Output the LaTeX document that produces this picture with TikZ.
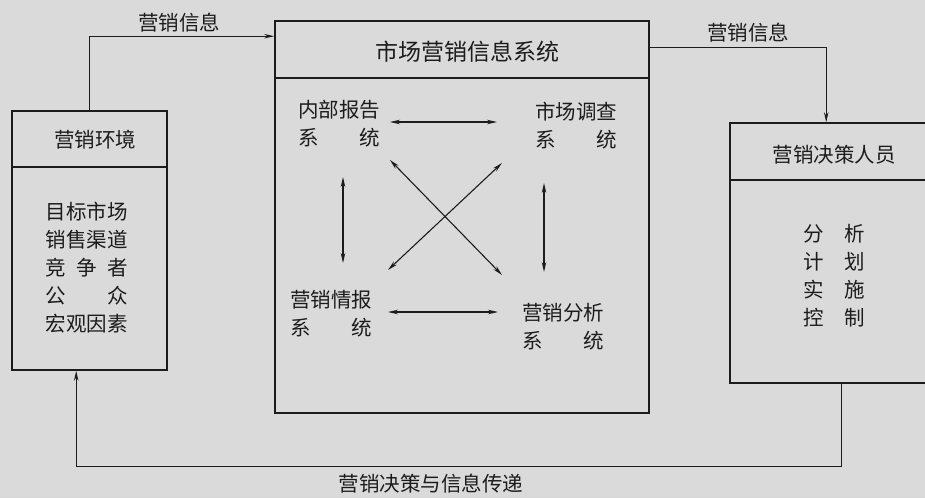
\documentclass[tikz,border=0pt]{standalone}
\usepackage{fontspec}
\setmainfont{Noto Sans CJK SC}
\usetikzlibrary{arrows.meta,calc}
\definecolor{paper}{RGB}{218,218,218}
\definecolor{ink}{RGB}{28,28,28}
\newcommand{\twoch}[3]{\makebox[#1]{#2\hfill#3}}
\newcommand{\threech}[4]{\makebox[#1]{#2\hfill#3\hfill#4}}
\begin{document}
\begin{tikzpicture}[x=1pt,y=-1pt,
  txt/.style={font=\fontsize{20.5}{28}\selectfont, inner sep=0pt, text=ink},
  ttl/.style={font=\fontsize{23}{28}\selectfont, inner sep=0pt, text=ink},
  box/.style={draw=ink, line width=1.6pt, inner sep=0pt},
  divline/.style={draw=ink, line width=1.6pt},
  arr/.style={draw=ink, line width=1.1pt, -{Stealth[length=10pt,width=4.5pt]}},
  darr/.style={draw=ink, line width=1.1pt, {Stealth[length=10pt,width=4.5pt]}-{Stealth[length=10pt,width=4.5pt]}},
]
\fill[paper] (0,0) rectangle (925,498);
\useasboundingbox (0,0) rectangle (925,498);
\clip (0,0) rectangle (925,498);

% boxes
\node[box, minimum width=155pt, minimum height=259pt] (env) at (89.5,240.5) {};
\node[box, minimum width=374pt, minimum height=392pt] (mis) at (462,217) {};
\node[box, minimum width=210pt, minimum height=260pt] (dm) at (835,253) {};

\draw[divline] (env.west |- 0,167) -- (env.east |- 0,167);
\draw[divline] (mis.west |- 0,78) -- (mis.east |- 0,78);
\draw[divline] (dm.west |- 0,180) -- (dm.east |- 0,180);

% titles
\node[txt] (envt) at (95,140) {营销环境};
\node[ttl] (mist) at (467,52) {市场营销信息系统};
\node[txt] (dmt) at (834,155) {营销决策人员};

% body texts
\node[txt, align=left] (envb) at (86.5,268) {目标市场\\销售渠道\\\threech{4em}{竞}{争}{者}\\\twoch{4em}{公}{众}\\宏观因素};
\node[txt, align=left] (dmb) at (834,276) {\twoch{3em}{分}{析}\\\twoch{3em}{计}{划}\\\twoch{3em}{实}{施}\\\twoch{3em}{控}{制}};

% subsystems
\node[txt, align=left] (irs) at (339,124) {内部报告\\\twoch{4em}{系}{统}};
\node[txt, align=left] (mr) at (576,126) {市场调查\\\twoch{4em}{系}{统}};
\node[txt, align=left] (mi) at (331,313.5) {营销情报\\\twoch{4em}{系}{统}};
\node[txt, align=left] (ma) at (563,326.5) {营销分析\\\twoch{4em}{系}{统}};

% inner arrows
\draw[darr] ($(irs)+(51,-2)$) -- ($(mr)+(-79,-4)$);
\draw[darr] ($(mi)+(57,-1.5)$) -- ($(ma)+(-65,-14.5)$);
\draw[darr] ($(irs)+(4,53)$) -- ($(mi)+(12,-50.5)$);
\draw[darr] ($(mr)+(-32,57)$) -- ($(ma)+(-19,-54.5)$);
\draw[darr] ($(irs)+(51,36)$) -- ($(ma)+(-61,-51.5)$);
\draw[darr] ($(mr)+(-74,37)$) -- ($(mi)+(57,-43.5)$);

% outer connectors
\draw[arr] (env.north) |- ($(mis.north west)+(0,16)$);
\draw[arr] ($(mis.north east)+(0,27)$) -| ($(dm.north west)+(97,0)$);
\draw[arr] ($(dm.south west)+(112,0)$) -- ++(0,83) -| ($(env.south west)+(65,0)$);

% labels
\node[txt] (lab1) at (179,22.5) {营销信息};
\node[txt] (lab2) at (748,32.5) {营销信息};
\node[txt] (lab3) at (431,484) {营销决策与信息传递};
\end{tikzpicture}
\end{document}
